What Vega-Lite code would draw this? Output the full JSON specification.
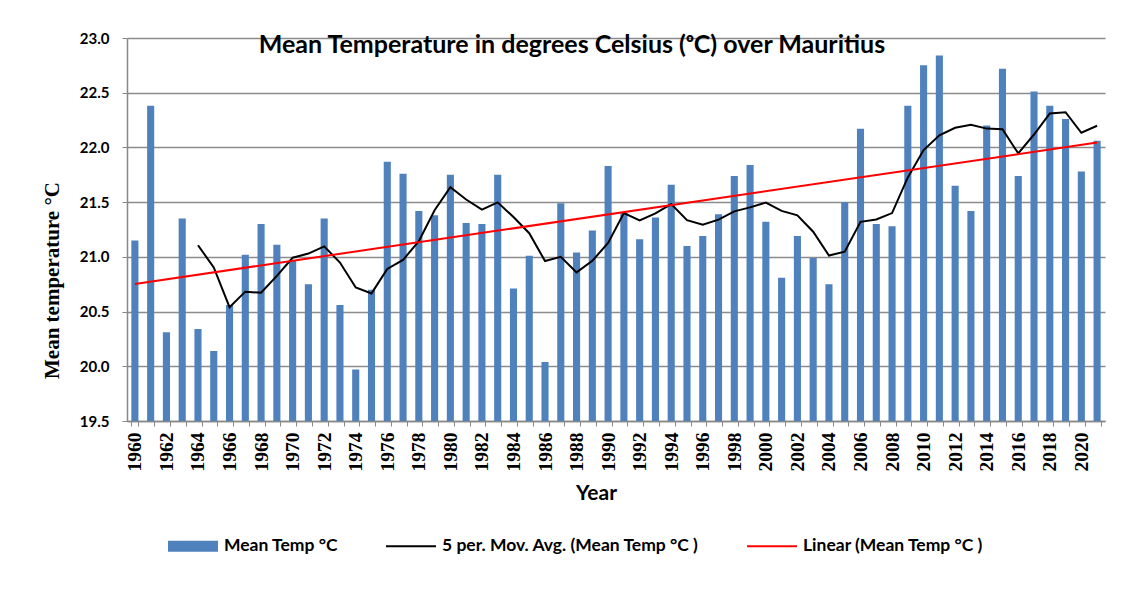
{
  "$schema": "https://vega.github.io/schema/vega-lite/v6.json",
  "width": 978,
  "height": 383,
  "autosize": {"type": "none"},
  "padding": {"left": 127, "top": 38, "right": 27, "bottom": 178},
  "background": "white",
  "title": {
    "text": "Mean Temperature in degrees Celsius (ᵒC) over Mauritius",
    "font": "Lato",
    "fontSize": 25,
    "fontWeight": "bold",
    "color": "black",
    "anchor": "middle",
    "frame": "group",
    "baseline": "top",
    "offset": -27,
    "dx": -44
  },
  "data": {
    "values": [
      {"year": 1960, "temp": 21.15}, {"year": 1961, "temp": 22.38}, {"year": 1962, "temp": 20.31},
      {"year": 1963, "temp": 21.35}, {"year": 1964, "temp": 20.34}, {"year": 1965, "temp": 20.14},
      {"year": 1966, "temp": 20.56}, {"year": 1967, "temp": 21.02}, {"year": 1968, "temp": 21.30},
      {"year": 1969, "temp": 21.11}, {"year": 1970, "temp": 20.97}, {"year": 1971, "temp": 20.75},
      {"year": 1972, "temp": 21.35}, {"year": 1973, "temp": 20.56}, {"year": 1974, "temp": 19.97},
      {"year": 1975, "temp": 20.70}, {"year": 1976, "temp": 21.87}, {"year": 1977, "temp": 21.76},
      {"year": 1978, "temp": 21.42}, {"year": 1979, "temp": 21.38}, {"year": 1980, "temp": 21.75},
      {"year": 1981, "temp": 21.31}, {"year": 1982, "temp": 21.30}, {"year": 1983, "temp": 21.75},
      {"year": 1984, "temp": 20.71}, {"year": 1985, "temp": 21.01}, {"year": 1986, "temp": 20.04},
      {"year": 1987, "temp": 21.49}, {"year": 1988, "temp": 21.04}, {"year": 1989, "temp": 21.24},
      {"year": 1990, "temp": 21.83}, {"year": 1991, "temp": 21.40}, {"year": 1992, "temp": 21.16},
      {"year": 1993, "temp": 21.36}, {"year": 1994, "temp": 21.66}, {"year": 1995, "temp": 21.10},
      {"year": 1996, "temp": 21.19}, {"year": 1997, "temp": 21.39}, {"year": 1998, "temp": 21.74},
      {"year": 1999, "temp": 21.84}, {"year": 2000, "temp": 21.32}, {"year": 2001, "temp": 20.81},
      {"year": 2002, "temp": 21.19}, {"year": 2003, "temp": 20.99}, {"year": 2004, "temp": 20.75},
      {"year": 2005, "temp": 21.50}, {"year": 2006, "temp": 22.17}, {"year": 2007, "temp": 21.30},
      {"year": 2008, "temp": 21.28}, {"year": 2009, "temp": 22.38}, {"year": 2010, "temp": 22.75},
      {"year": 2011, "temp": 22.84}, {"year": 2012, "temp": 21.65}, {"year": 2013, "temp": 21.42},
      {"year": 2014, "temp": 22.20}, {"year": 2015, "temp": 22.72}, {"year": 2016, "temp": 21.74},
      {"year": 2017, "temp": 22.51}, {"year": 2018, "temp": 22.38}, {"year": 2019, "temp": 22.26},
      {"year": 2020, "temp": 21.78}, {"year": 2021, "temp": 22.06}
    ]
  },
  "encoding": {
    "x": {
      "field": "year",
      "type": "ordinal",
      "scale": {"paddingInner": 0.55, "paddingOuter": 0.275},
      "axis": {
        "title": "Year",
        "titleFont": "Lato",
        "titleFontSize": 21,
        "titleFontWeight": "bold",
        "titleColor": "black",
        "titlePadding": 11,
        "titleX": 469,
        "labelAngle": -90,
        "labelFont": "Liberation Serif",
        "labelFontSize": 19.5,
        "labelFontWeight": "bold",
        "labelColor": "black",
        "labelPadding": 6,
        "labelExpr": "datum.value % 2 == 0 ? datum.label : ''",
        "labelOverlap": false,
        "tickBand": "extent",
        "tickSize": 5,
        "tickColor": "#888888",
        "domainColor": "#888888",
        "domainWidth": 1.5,
        "grid": false
      }
    }
  },
  "layer": [
    {
      "mark": {"type": "bar", "color": "#4F81BD", "clip": true},
      "encoding": {
        "y": {
          "field": "temp",
          "type": "quantitative",
          "scale": {"domain": [19.5, 23], "zero": false, "nice": false},
          "axis": {
            "title": "Mean temperature °C",
            "titleFont": "Liberation Serif",
            "titleFontSize": 21,
            "titleFontWeight": "bold",
            "titleColor": "black",
            "titlePadding": 17,
            "titleY": 242,
            "values": [19.5, 20, 20.5, 21, 21.5, 22, 22.5, 23],
            "format": ".1f",
            "labelFont": "Lato",
            "labelFontSize": 15,
            "labelFontWeight": "bold",
            "labelColor": "black",
            "labelPadding": 13,
            "tickSize": 5,
            "tickColor": "#888888",
            "domainColor": "#888888",
            "domainWidth": 1.5,
            "gridColor": "#8c8c8c",
            "gridWidth": 1.5
          }
        },
        "color": {
          "datum": "Mean Temp °C",
          "type": "nominal",
          "scale": {
            "domain": ["Mean Temp °C", "5 per. Mov. Avg. (Mean Temp °C )", "Linear (Mean Temp °C )"],
            "range": ["#4F81BD", "#000000", "#FF0000"]
          },
          "legend": {
            "title": null,
            "orient": "none",
            "direction": "horizontal",
            "legendX": 41,
            "legendY": 483,
            "symbolType": "square",
            "symbolSize": 2500,
            "symbolStrokeWidth": 0,
            "labelFont": "Lato",
            "labelFontSize": 17.5,
            "labelFontWeight": "bold",
            "labelColor": "black",
            "labelOffset": 6,
            "columnPadding": 47,
            "labelLimit": 400,
            "encode": {
              "symbols": {
                "update": {
                  "shape": {"signal": "datum.value === 'Mean Temp °C' ? 'M-1,-0.22H1V0.22H-1Z' : 'M-1,-0.04H1V0.04H-1Z'"},
                  "fill": {"scale": "color", "field": "value"},
                  "stroke": {"value": "transparent"},
                  "strokeWidth": {"value": 0},
                  "opacity": {"value": 1},
                  "fillOpacity": {"value": 1}
                }
              }
            }
          }
        }
      }
    },
    {
      "transform": [
        {"window": [{"op": "mean", "field": "temp", "as": "ma"}, {"op": "count", "as": "n"}], "frame": [-4, 0], "sort": [{"field": "year", "order": "ascending"}]},
        {"filter": "datum.n == 5"}
      ],
      "mark": {"type": "line", "strokeWidth": 2, "color": "black"},
      "encoding": {
        "y": {"field": "ma", "type": "quantitative"},
        "color": {"datum": "5 per. Mov. Avg. (Mean Temp °C )", "type": "nominal"}
      }
    },
    {
      "transform": [
        {"regression": "temp", "on": "year", "method": "linear"}
      ],
      "mark": {"type": "line", "strokeWidth": 2, "color": "#FF0000"},
      "encoding": {
        "y": {"field": "temp", "type": "quantitative"},
        "color": {"datum": "Linear (Mean Temp °C )", "type": "nominal"}
      }
    }
  ],
  "config": {
    "view": {"stroke": null}
  }
}
